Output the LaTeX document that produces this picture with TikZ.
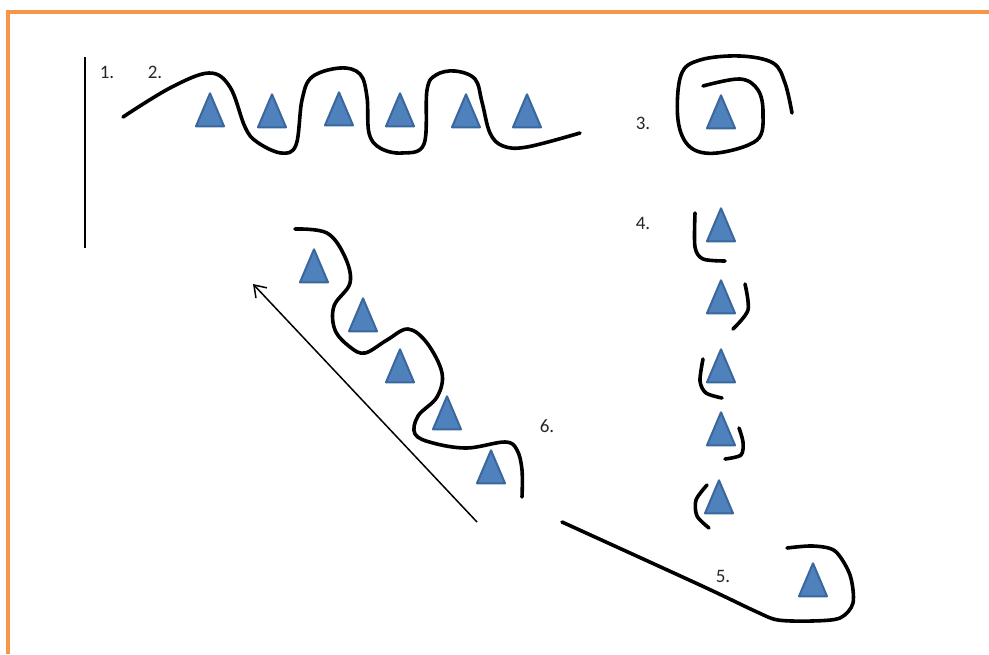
\documentclass[tikz,border=0pt]{standalone}
\usepackage{fontspec}
\setmainfont{Carlito}
\usetikzlibrary{shapes.geometric,arrows.meta}
\definecolor{conefill}{HTML}{4F81BD}
\definecolor{coneline}{HTML}{3A679C}
\definecolor{frameorange}{HTML}{F79646}
\begin{document}
\begin{tikzpicture}[x=1pt,y=-1pt,
  cone/.style={isosceles triangle,shape border rotate=90,isosceles triangle stretches,
    minimum width=28pt,minimum height=33pt,inner sep=0pt,fill=conefill,draw=coneline,
    line width=2pt,line join=round},
  tag/.style={font=\fontsize{19}{22}\selectfont,text=black!85},
  rope/.style={line width=3.6pt,line cap=round,line join=round}]
\useasboundingbox (0,0) rectangle (989,654);
\draw[frameorange,line width=3.5pt] (8,654) -- (8,12) -- (989,12);
\draw[line width=2pt] (85,57) -- (85,248);
\node[tag] (l1) at (107,72) {1.};
\node[tag] (l2) at (155,72) {2.};
\node[tag] (l3) at (643,123) {3.};
\node[tag] (l4) at (643,223) {4.};
\node[tag] (l5) at (723,576) {5.};
\node[tag] (l6) at (547,426) {6.};
% 2. row of cones
\node[cone] (t21) at (210,117) {};
\node[cone] (t22) at (272,118) {};
\node[cone] (t23) at (339,116) {};
\node[cone] (t24) at (400,117) {};
\node[cone] (t25) at (466,118) {};
\node[cone] (t26) at (527,118) {};
\draw[rope] plot[smooth,tension=0.6] coordinates {(123,117) (170,88) (209,73) (230,87) (245,127)
  (257,142) (281,153) (296,145) (302,100) (312,77) (340,68) (360,74) (367,97) (369,133) (380,148)
  (402,153) (424,144) (427,90) (436,75) (455,71) (475,79) (482,102) (490,133) (503,146) (527,147)
  (580,133)};
% 3.
\node[cone] (t3) at (721,119) {};
\draw[rope] plot[smooth,tension=0.6] coordinates {(703,86) (740,79) (758,90) (763,113) (757,140)
  (717,153) (690,147) (678,120) (681,75) (700,60) (740,56) (773,63) (785,83) (792,113)};
% 4.
\node[cone] (t41) at (721,232) {};
\node[cone] (t42) at (721,304) {};
\node[cone] (t43) at (721,373) {};
\node[cone] (t44) at (721,436) {};
\node[cone] (t45) at (719,504) {};
\draw[rope] plot[smooth] coordinates {(695,213) (695,247) (703,259) (725,261)};
\draw[rope] plot[smooth] coordinates {(745,284) (748,310) (733,329)};
\draw[rope] plot[smooth] coordinates {(703,359) (700,381) (706,393) (722,398)};
\draw[rope] plot[smooth] coordinates {(739,428) (743,442) (741,455) (725,459)};
\draw[rope] plot[smooth] coordinates {(707,485) (696,500) (697,516) (709,528)};
% 5.
\node[cone] (t5) at (813,587) {};
\draw[rope] plot[smooth,tension=0.5] coordinates {(562,522) (700,585) (757,612) (778,620)
  (812,621) (840,618) (853,603) (850,575) (835,551) (813,546) (787,548)};
% 6.
\node[cone] (t61) at (314,273) {};
\node[cone] (t62) at (363,322) {};
\node[cone] (t63) at (400,373) {};
\node[cone] (t64) at (447,420) {};
\node[cone] (t65) at (491,474) {};
\draw[rope] plot[smooth,tension=0.6] coordinates {(295,229) (327,233) (345,257) (350,283)
  (334,306) (335,330) (350,347) (365,353) (387,340) (408,329) (427,343) (442,373) (437,397)
  (418,416) (415,434) (433,443) (467,448) (505,442) (517,450) (522,470) (522,497)};
\coordinate (up0) at (477,522);
\coordinate (up1) at (253,284);
\draw[line width=1.5pt,-{Straight Barb[length=11pt,width=15pt]}] (up0) -- (up1);
\end{tikzpicture}
\end{document}
